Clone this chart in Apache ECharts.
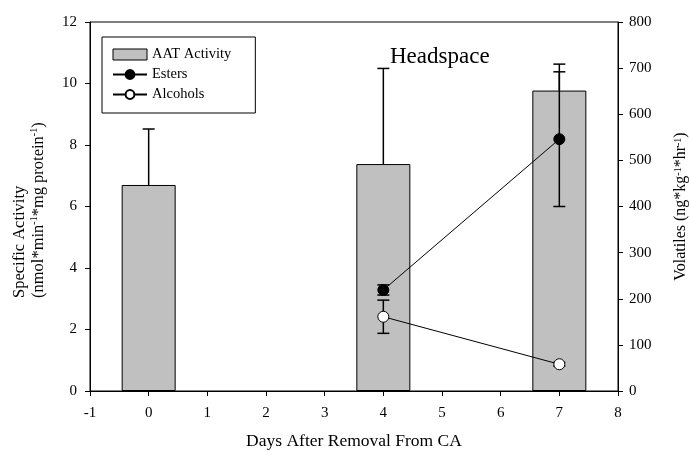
<!DOCTYPE html>
<html>
<head>
<meta charset="utf-8">
<script src="https://cdn.jsdelivr.net/npm/echarts@6/dist/echarts.min.js"></script>
<style>
  html, body { margin: 0; padding: 0; background: #fff; }
  #chart { width: 689px; height: 452px; }
</style>
</head>
<body>
<div id="chart"></div>
<script>
// Days after removal from CA
const days = [0, 4, 7];
// AAT specific activity (left axis) and its standard error
const aatActivity = [6.7, 7.38, 9.77];
const aatError = [1.82, 3.11, 0.86];

// Headspace volatiles (right axis)
const volatileDays = [4, 7];
const esters = [219, 546];
const estersError = [11, 146];
const alcohols = [161, 58];
const alcoholsError = [36, 4];

const font = 'Liberation Serif, Times New Roman, serif';

function errorSeries(name, xs, ys, errs, yAxisIndex, upperOnly) {
  return {
    type: 'custom',
    name: name,
    yAxisIndex: yAxisIndex,
    silent: true,
    z: upperOnly ? 3 : 4,
    data: xs.map((x, i) => [x, ys[i], errs[i]]),
    renderItem: function (params, api) {
      const x = api.value(0), y = api.value(1), e = api.value(2);
      const top = api.coord([x, y + e]);
      const bottom = api.coord([x, upperOnly ? y : y - e]);
      const half = 6;
      const style = { stroke: '#000', lineWidth: 1.5 };
      const children = [
        { type: 'line', shape: { x1: top[0], y1: top[1], x2: bottom[0], y2: bottom[1] }, style: style },
        { type: 'line', shape: { x1: top[0] - half, y1: top[1], x2: top[0] + half, y2: top[1] }, style: style }
      ];
      if (!upperOnly) {
        children.push({ type: 'line', shape: { x1: bottom[0] - half, y1: bottom[1], x2: bottom[0] + half, y2: bottom[1] }, style: style });
      }
      return { type: 'group', children: children };
    }
  };
}

const supStyle = { fontFamily: font, fontSize: 10, verticalAlign: 'top', color: '#000' };

const chart = echarts.init(document.getElementById('chart'));
chart.setOption({
  animation: false,
  backgroundColor: '#fff',
  textStyle: { fontFamily: font, color: '#000' },
  title: {
    text: 'Headspace',
    left: 385,
    top: 40,
    textStyle: { fontFamily: font, fontSize: 23, fontWeight: 'normal', color: '#000' }
  },
  graphic: [
    {
      // left axis title, two lines starting at the same baseline end
      type: 'text',
      x: 29,
      y: 298,
      rotation: Math.PI / 2,
      style: {
        text: 'Specific Activity\n(nmol*min{sup|-1}*mg protein{sup|-1})',
        fontFamily: font,
        fontSize: 16.5,
        lineHeight: 19,
        fill: '#000',
        align: 'left',
        verticalAlign: 'middle',
        rich: { sup: supStyle }
      }
    }
  ],
  legend: {
    orient: 'vertical',
    left: 102,
    top: 37,
    padding: [10, 24, 11, 10],
    borderColor: '#000',
    borderWidth: 1,
    itemWidth: 34,
    itemHeight: 11,
    itemGap: 5,
    textStyle: { fontFamily: font, fontSize: 14.5, color: '#000' },
    data: [
      { name: 'AAT Activity', icon: 'rect', itemStyle: { borderWidth: 1, borderColor: '#000' } },
      'Esters',
      'Alcohols'
    ]
  },
  grid: {
    left: 90, right: 71, top: 22, bottom: 61,
    outerBoundsMode: 'none',
    containLabel: false,
    show: true, borderColor: '#000', borderWidth: 1
  },
  xAxis: {
    type: 'value',
    min: -1,
    max: 8,
    interval: 1,
    name: 'Days After Removal From CA',
    nameLocation: 'middle',
    nameGap: 41,
    nameTextStyle: { fontFamily: font, fontSize: 17.5, color: '#000' },
    axisLine: { lineStyle: { color: '#000' } },
    axisTick: { inside: false, length: 5, lineStyle: { color: '#000' } },
    axisLabel: { fontFamily: font, fontSize: 15, color: '#000', margin: 15 },
    splitLine: { show: false }
  },
  yAxis: [
    {
      type: 'value',
      min: 0,
      max: 12,
      interval: 2,
      axisLine: { show: true, onZero: false, lineStyle: { color: '#000' } },
      axisTick: { show: true, length: 5, lineStyle: { color: '#000' } },
      axisLabel: { fontFamily: font, fontSize: 15, color: '#000', margin: 13 },
      splitLine: { show: false }
    },
    {
      type: 'value',
      min: 0,
      max: 800,
      interval: 100,
      position: 'right',
      name: 'Volatiles (ng*kg{sup|-1}*hr{sup|-1})',
      nameLocation: 'middle',
      nameRotate: 90,
      nameGap: 55,
      nameTextStyle: {
        fontFamily: font, fontSize: 16, color: '#000',
        rich: { sup: supStyle }
      },
      axisLine: { show: true, onZero: false, lineStyle: { color: '#000' } },
      axisTick: { show: true, length: 5, lineStyle: { color: '#000' } },
      axisLabel: { fontFamily: font, fontSize: 15, color: '#000', margin: 11 },
      splitLine: { show: false }
    }
  ],
  series: [
    {
      name: 'AAT Activity',
      type: 'bar',
      yAxisIndex: 0,
      barWidth: 54,
      z: 2,
      itemStyle: { color: '#c0c0c0', borderColor: '#000', borderWidth: 1 },
      data: days.map((d, i) => [d, aatActivity[i]])
    },
    errorSeries('aatErr', days, aatActivity, aatError, 0, true),
    errorSeries('esterErr', volatileDays, esters, estersError, 1, false),
    errorSeries('alcoholErr', volatileDays, alcohols, alcoholsError, 1, false),
    {
      name: 'Esters',
      type: 'line',
      yAxisIndex: 1,
      z: 5,
      symbol: 'circle',
      symbolSize: 11,
      lineStyle: { color: '#000', width: 1 },
      itemStyle: { color: '#000', borderColor: '#000', borderWidth: 1 },
      data: volatileDays.map((d, i) => [d, esters[i]])
    },
    {
      name: 'Alcohols',
      type: 'line',
      yAxisIndex: 1,
      z: 5,
      symbol: 'circle',
      symbolSize: 11,
      lineStyle: { color: '#000', width: 1 },
      itemStyle: { color: '#fff', borderColor: '#000', borderWidth: 1 },
      data: volatileDays.map((d, i) => [d, alcohols[i]])
    }
  ]
});
</script>
</body>
</html>
